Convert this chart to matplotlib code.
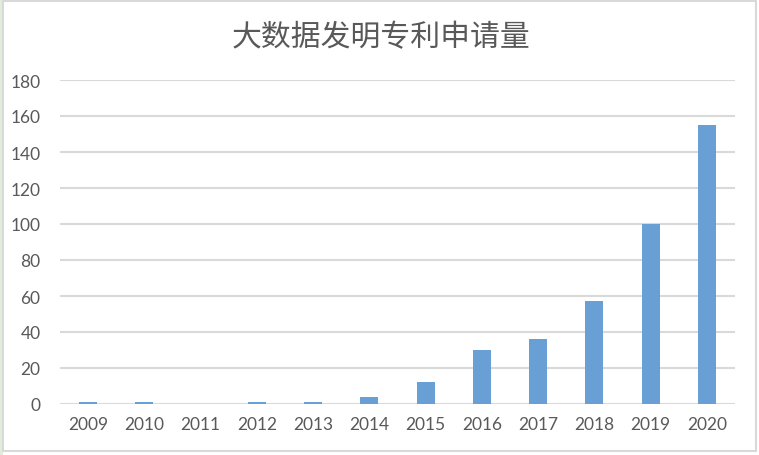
import matplotlib
matplotlib.use("Agg")
import matplotlib.pyplot as plt
from matplotlib.patches import Rectangle

plt.rcParams['font.family'] = ['Noto Sans CJK SC', 'DejaVu Sans']

years = ['2009', '2010', '2011', '2012', '2013', '2014', '2015', '2016', '2017', '2018', '2019', '2020']
counts = [1, 1, 0, 1, 1, 4, 12, 30, 36, 57, 100, 155]
yticks = [0, 20, 40, 60, 80, 100, 120, 140, 160, 180]
title = '大数据发明专利申请量'

W, H = 759, 456
fig = plt.figure(figsize=(W / 100, H / 100), dpi=100)
fig.patch.set_facecolor('white')

# outer frame
fig.patches.append(Rectangle((0, 0), 3 / W, 1, transform=fig.transFigure,
                             facecolor='#e3ebdc', edgecolor='none', zorder=-2))
fig.patches.append(Rectangle((2.5 / W, 4.5 / H), 753.5 / W, 450 / H, transform=fig.transFigure,
                             facecolor='white', edgecolor='#d9d9d9', linewidth=1.5, zorder=-1))

ax = fig.add_axes([60 / W, (H - 405) / H, 675 / W, 324 / H])
ax.set_facecolor('none')
x = list(range(len(years)))
ax.bar(x, counts, width=0.32, color='#689fd5', zorder=3)
ax.set_xlim(-0.5, len(years) - 0.5)
ax.set_ylim(0, 180)
ax.set_yticks(yticks)
ax.set_yticklabels([str(v) for v in yticks])
ax.set_xticks(x)
ax.set_xticklabels(years)
for s in ax.spines.values():
    s.set_visible(False)
ax.grid(axis='y', color='#d9d9d9', linewidth=1.5, zorder=0)
ax.set_axisbelow(True)
ax.tick_params(axis='both', length=0, labelsize=12.5, labelcolor='#595959')
ax.tick_params(axis='y', pad=14)
ax.tick_params(axis='x', pad=9)
for lbl in ax.get_xticklabels() + ax.get_yticklabels():
    lbl.set_family(['Lato', 'DejaVu Sans'])
    lbl.set_fontweight('normal')

fig.text(381 / W, 1 - 38 / H, title, ha='center', va='center', fontsize=21.5,
         color='#595959', fontweight='light')

fig.savefig('out.png', dpi=100, facecolor=fig.get_facecolor())
